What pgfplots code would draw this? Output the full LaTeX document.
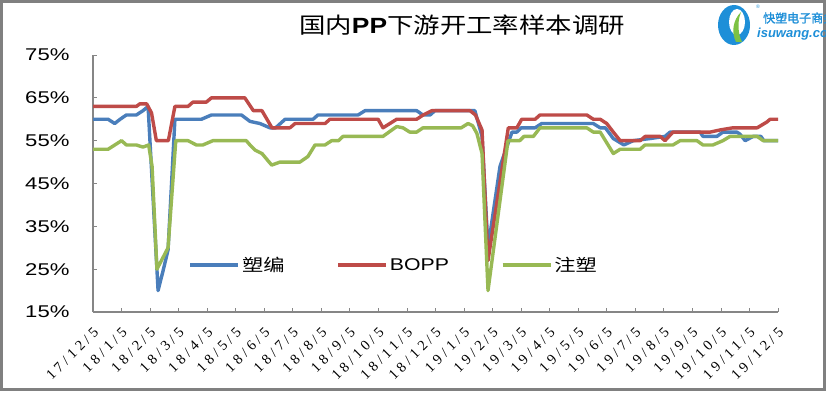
\documentclass[border=0pt]{standalone}
\usepackage{fontspec}
\usepackage{pgfplots}
\pgfplotsset{compat=1.18}
\setmainfont{Liberation Serif}
\newfontfamily\ysans{Liberation Sans}
\newfontfamily\xlabfont[LetterSpace=26]{Liberation Serif}
\newfontfamily\cjk{Noto Sans CJK SC}
\newfontfamily\cjkb[FakeBold=1.5]{Noto Sans CJK SC}
\definecolor{sblue}{HTML}{4A7EBB}
\definecolor{sred}{HTML}{BE4B48}
\definecolor{sgreen}{HTML}{98B954}
\definecolor{axgray}{HTML}{868686}
\definecolor{bordergray}{HTML}{808080}
\definecolor{logoblue}{HTML}{1E8FD8}
\definecolor{logogreen}{HTML}{7DC243}
\newcommand\sx[2][1.3]{\scalebox{#1}[1]{#2}}
\newcommand\ylab[1]{\sx{#1}}
\newcommand\leglab[1]{\sx[1.25]{#1}}
\begin{document}
\begin{tikzpicture}[x=1pt,y=1pt]
\useasboundingbox (0,0) rectangle (826,394);
\fill[white] (0,0) rectangle (826,394);
\draw[bordergray, line width=2.5pt] (1.5,4.5) rectangle (824.5,392.5);
% title
\node at (462,369) {\sx[1.2]{\fontsize{22pt}{24pt}\selectfont{\cjk 国内}{\ysans\bfseries PP}{\cjk 下游开工率样本调研}}};
% logo
\fill[logoblue] (734,369) ellipse (16 and 20);
\fill[white] (737,372) ellipse (8 and 13);
\fill[logogreen] (736,352) .. controls (731,362) and (733,374) .. (741,382) .. controls (737,372) and (738,360) .. (742,352) -- cycle;
\node[text=logoblue, anchor=west, inner sep=0] at (756,387) {\ysans\fontsize{5pt}{5pt}\selectfont ®};
\node[text=logoblue, anchor=west, inner sep=0] at (763,376) {\cjkb\fontsize{12pt}{12pt}\selectfont 快塑电子商务};
\node[text=logoblue, anchor=west, inner sep=0] at (757,360) {\ysans\bfseries\itshape\fontsize{13pt}{13pt}\selectfont isuwang.com};
\begin{axis}[
  at={(93pt,82pt)}, anchor=south west,
  scale only axis, width=685pt, height=257pt,
  xmin=0, xmax=24, ymin=15, ymax=75,
  xtick={0,1,...,24},
  xticklabels={17/12/5,18/1/5,18/2/5,18/3/5,18/4/5,18/5/5,18/6/5,18/7/5,18/8/5,18/9/5,18/10/5,18/11/5,18/12/5,19/1/5,19/2/5,19/3/5,19/4/5,19/5/5,19/6/5,19/7/5,19/8/5,19/9/5,19/10/5,19/11/5,19/12/5},
  ytick={15,25,35,45,55,65,75},
  yticklabels={\ylab{15\%},\ylab{25\%},\ylab{35\%},\ylab{45\%},\ylab{55\%},\ylab{65\%},\ylab{75\%}},
  axis x line*=bottom, axis y line*=left,
  axis line style={draw=axgray, line width=1.6pt, -},
  tick align=inside, major tick length=4pt,
  tick style={draw=axgray, line width=0.8pt},
  x tick label style={xshift=3pt, yshift=-18pt, rotate=45, anchor=east, font=\xlabfont\fontsize{14.5pt}{14.5pt}\selectfont, inner sep=0pt},
  y tick label style={font=\ysans\fontsize{17pt}{17pt}\selectfont, xshift=-20pt},
  legend style={at={(0.135,0.183)}, anchor=west, draw=none, fill=none, legend columns=3,
    font=\fontsize{17pt}{18pt}\selectfont, /tikz/every even column/.append style={column sep=50pt}},
  legend image code/.code={\draw[#1] (0pt,0pt) -- (48pt,0pt);},
  every axis plot/.append style={line width=3.4pt, line join=round},
  clip=false,
]
\addplot[sblue] coordinates {(0,60) (0.53,60) (0.76,59) (0.95,60) (1.17,61) (1.52,61) (1.75,62) (1.93,63) (2.28,20) (2.45,24.5) (2.63,29.5) (2.87,60) (3.8,60) (4.15,61) (5.2,61) (5.5,59.5) (5.85,59) (6.2,58) (6.4,58) (6.73,60) (7.71,60) (7.88,61) (9.29,61) (9.53,62) (11.34,62) (11.56,61) (11.81,61) (11.98,62) (13.38,62) (13.63,56) (13.84,30) (14.26,49) (14.68,57) (14.85,57) (15.0,58) (15.49,58) (15.72,59) (17.53,59) (17.77,58) (17.95,58) (18.23,55.5) (18.6,54) (18.93,55) (19.52,55.5) (20.04,56) (20.22,57) (21.27,57) (21.37,56) (21.86,56) (22.07,57) (22.56,57) (22.67,56.5) (22.85,55) (23.13,56) (23.4,56) (23.5,55) (24,55)};
\addlegendentry{\leglab{\cjk 塑编}}
\addplot[sred] coordinates {(0,63) (1.52,63) (1.64,63.6) (1.88,63.6) (2.05,61.5) (2.22,55) (2.64,55) (2.87,63) (3.33,63) (3.5,64) (3.97,64) (4.15,65) (5.32,65) (5.62,62) (5.92,62) (6.27,58) (6.9,58) (7.08,59) (8.13,59) (8.3,60) (9.99,60) (10.16,58) (10.4,59) (10.64,60) (11.34,60) (11.57,61) (11.87,62) (13.21,62) (13.4,61) (13.63,57.5) (13.84,27) (14.55,58) (14.85,58) (15.02,60) (15.49,60) (15.66,61) (17.3,61) (17.53,60) (17.77,60) (18.0,59) (18.23,57) (18.47,55) (19.17,55) (19.35,56) (19.87,56) (20.04,55) (20.32,57) (21.62,57) (21.97,57.5) (22.42,58) (23.27,58) (23.62,59.4) (23.72,60) (24,60)};
\addlegendentry{\leglab{\ysans BOPP}}
\addplot[sgreen] coordinates {(0,53) (0.53,53) (1.0,55) (1.17,54) (1.52,54) (1.75,53.5) (1.95,54) (2.07,49) (2.24,25) (2.63,30) (2.9,55) (3.33,55) (3.62,54) (3.85,54) (4.2,55) (5.37,55) (5.5,54) (5.68,52.8) (5.92,52) (6.26,49.3) (6.55,50) (7.25,50) (7.53,51.3) (7.78,54) (8.13,54) (8.36,55) (8.6,55) (8.76,56) (10.16,56) (10.41,57.2) (10.64,58.3) (10.86,58) (11.1,57) (11.34,57) (11.56,58) (12.9,58) (13.14,59) (13.3,58.5) (13.45,56.7) (13.63,52) (13.84,20) (14.54,55) (14.95,55) (15.1,56) (15.43,56) (15.66,58) (17.3,58) (17.53,57) (17.77,57) (18.0,54.5) (18.23,52) (18.47,53) (19.17,53) (19.34,54) (20.32,54) (20.57,55) (21.16,55) (21.37,54) (21.72,54) (22.07,55) (22.32,56) (23.27,56) (23.48,55) (24,55)};
\addlegendentry{\leglab{\cjk 注塑}}
\end{axis}
\end{tikzpicture}
\end{document}
